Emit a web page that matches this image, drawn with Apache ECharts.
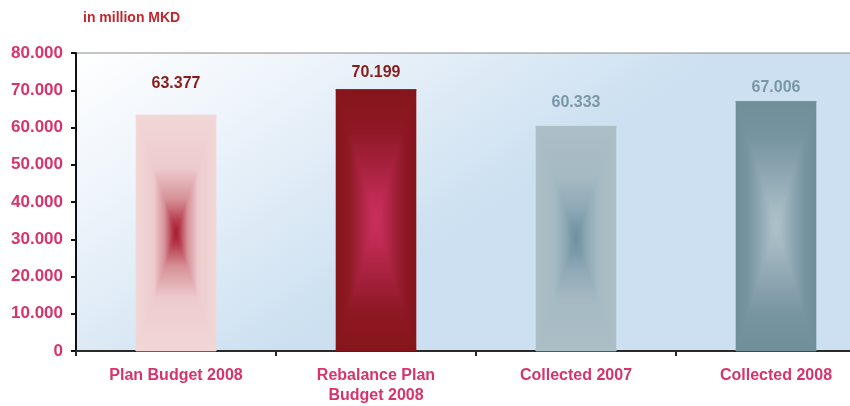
<!DOCTYPE html>
<html>
<head>
<meta charset="utf-8">
<script src="https://cdn.jsdelivr.net/npm/echarts@6/dist/echarts.min.js"></script>
<style>
  html, body { margin: 0; padding: 0; background: #fff; overflow: hidden; }
  /* the drawing runs a little past the right edge of the page */
  #chart { width: 900px; height: 406px; }
</style>
</head>
<body>
<div id="chart"></div>
<script>
// Revenue figures, in million MKD
const categories = ['Plan Budget 2008', 'Rebalance Plan\nBudget 2008', 'Collected 2007', 'Collected 2008'];
const values = [63377, 70199, 60333, 67006];
const yTicks = { min: 0, max: 80000, interval: 10000 };
const unitTitle = 'in million MKD';

// Styling: edge colour, shading stops (edge -> centre), value-label colour and gap
const edgeColors = ['#F2D7D7', '#86151B', '#ACBEC6', '#718F9B'];
const shadeStops = [
  [[0, '#F2D7D7'], [0.45, '#EDCBCD'], [0.72, '#D68F97'], [0.9, '#B63B4B'], [1, '#A3152A']],
  [[0, '#86151B'], [0.3, '#8E1824'], [0.6, '#A8223F'], [0.85, '#C22B55'], [1, '#CC2F5D']],
  [[0, '#ACBEC6'], [0.45, '#A6BAC3'], [0.72, '#8FAAB6'], [0.9, '#7898A5'], [1, '#6C909D']],
  [[0, '#708E9A'], [0.3, '#7795A1'], [0.6, '#8FA8B3'], [0.85, '#A5BAC3'], [1, '#AFC2CA']]
];
const labelColors = ['#8B1A1A', '#8B1A1A', '#7A97A5', '#7A97A5'];
const labelGap = [23, 9, 16, 6];

const red = '#D8336A';
const fontFamily = '"Liberation Sans", Arial, sans-serif';

function fmtThousands(v) {
  const s = String(Math.round(v));
  return s.replace(/\B(?=(\d{3})+(?!\d))/g, '.');
}

function grad(x, y, x2, y2, stops) {
  return {
    type: 'linear', x: x, y: y, x2: x2, y2: y2, global: true,
    colorStops: stops.map(s => ({ offset: s[0], color: s[1] }))
  };
}

const chart = echarts.init(document.getElementById('chart'), null, { renderer: 'canvas' });

chart.setOption({
  backgroundColor: '#ffffff',
  animation: false,
  title: {
    text: unitTitle,
    left: 78, top: 6,
    textStyle: { color: '#C4262E', fontSize: 14, fontWeight: 'bold', fontFamily: fontFamily }
  },
  grid: {
    left: 76, top: 53, bottom: 53, right: 24,
    show: true,
    borderColor: '#8c8c8c', borderWidth: 1,
    backgroundColor: {
      type: 'linear', x: 0, y: 0, x2: 0.25, y2: 1,
      colorStops: [
        { offset: 0, color: '#FFFFFF' },
        { offset: 0.35, color: '#EFF5FB' },
        { offset: 1, color: '#CCE0F1' }
      ]
    }
  },
  xAxis: {
    type: 'category',
    data: categories,
    axisLine: { lineStyle: { color: '#2a2a2a', width: 2 } },
    axisTick: { show: true, length: 5, lineStyle: { color: '#2a2a2a', width: 2 } },
    axisLabel: {
      color: red, fontSize: 16, fontWeight: 'bold', fontFamily: fontFamily,
      margin: 15, lineHeight: 20
    }
  },
  yAxis: {
    type: 'value',
    min: yTicks.min, max: yTicks.max, interval: yTicks.interval,
    splitLine: { show: false },
    axisLine: { show: true, lineStyle: { color: '#111', width: 2 } },
    axisTick: { show: true, length: 5, lineStyle: { color: '#111', width: 2 } },
    axisLabel: {
      color: red, fontSize: 17, fontWeight: 'bold', fontFamily: fontFamily,
      margin: 13, formatter: v => fmtThousands(v)
    }
  },
  series: [
    {
      type: 'bar',
      barWidth: '40%',
      z: 2,
      data: values.map((v, i) => ({
        value: v,
        itemStyle: { color: edgeColors[i] },
        label: { color: labelColors[i], distance: labelGap[i] }
      })),
      label: {
        show: true, position: 'top',
        fontSize: 16, fontWeight: 'bold', fontFamily: fontFamily,
        formatter: p => fmtThousands(p.value)
      }
    },
    {
      // Rectangular "path" shading laid over each bar: four triangles shaded edge -> centre
      type: 'custom',
      z: 3,
      silent: true,
      data: values.map((v, i) => [i, v]),
      encode: { x: 0, y: 1 },
      renderItem: function (params, api) {
        const i = api.value(0);
        const topPt = api.coord([i, api.value(1)]);
        const basePt = api.coord([i, 0]);
        const w = api.size([1, 0])[0] * 0.4;
        const x0 = topPt[0] - w / 2, x1 = topPt[0] + w / 2;
        const y0 = topPt[1], y1 = basePt[1];
        const cx = topPt[0], cy = (y0 + y1) / 2;
        const stops = shadeStops[i];
        const tri = (pts, fill) => ({
          type: 'polygon',
          shape: { points: pts },
          style: { fill: fill, stroke: fill, lineWidth: 0.6 }
        });
        return {
          type: 'group',
          children: [
            tri([[x0, y0], [x1, y0], [cx, cy]], grad(cx, y0, cx, cy, stops)),
            tri([[x0, y1], [x1, y1], [cx, cy]], grad(cx, y1, cx, cy, stops)),
            tri([[x0, y0], [x0, y1], [cx, cy]], grad(x0, cy, cx, cy, stops)),
            tri([[x1, y0], [x1, y1], [cx, cy]], grad(x1, cy, cx, cy, stops))
          ]
        };
      }
    }
  ]
});
</script>
</body>
</html>
